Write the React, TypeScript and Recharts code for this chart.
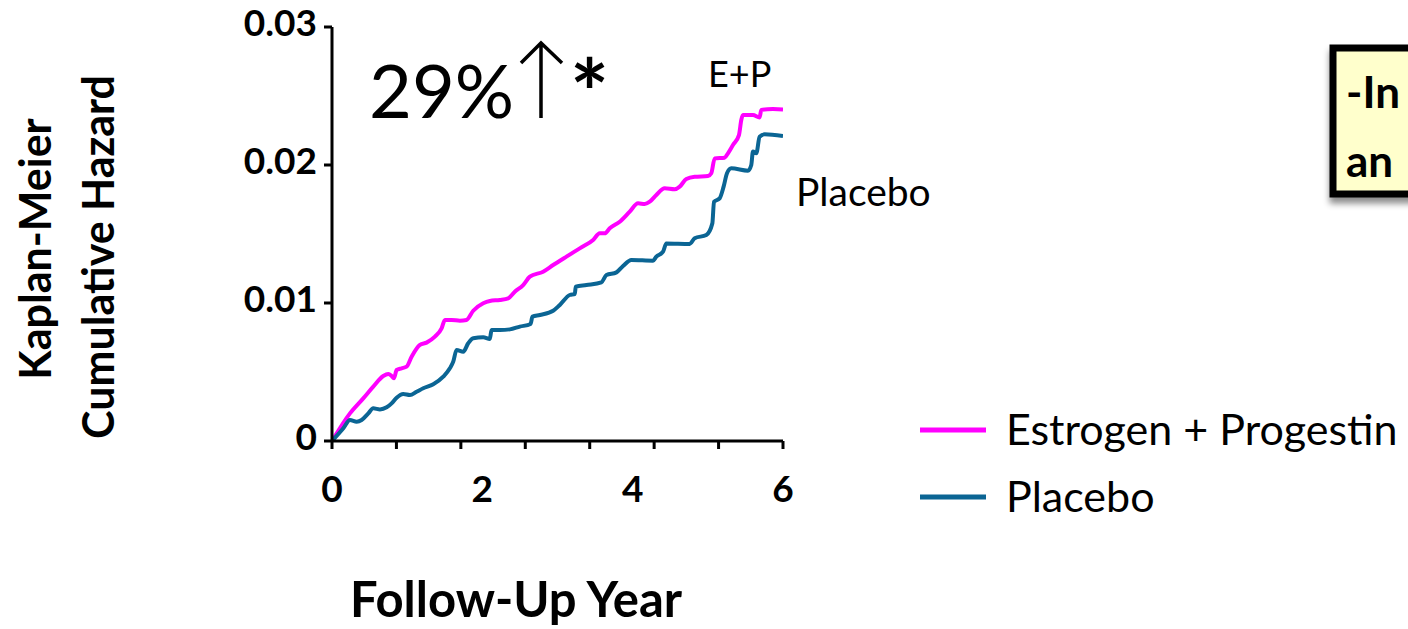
import React from 'react';
import { LineChart, Line, XAxis, YAxis, Legend } from 'recharts';

// Follow-up year (x) and cumulative hazard (y)
const epYears = [0, 0.239, 0.416, 0.549, 0.682, 0.749, 0.793, 0.824, 0.86, 0.926, 0.992, 1.059, 1.17, 1.258, 1.369, 1.458, 1.502, 1.591, 1.701, 1.79, 1.879, 2.012, 2.1, 2.233, 2.344, 2.432, 2.543, 2.632, 2.809, 2.942, 3.119, 3.296, 3.474, 3.562, 3.629, 3.695, 3.828, 3.961, 4.072, 4.16, 4.227, 4.315, 4.426, 4.559, 4.626, 4.714, 4.825, 5.002, 5.046, 5.091, 5.224, 5.268, 5.334, 5.414, 5.445, 5.467, 5.6, 5.689, 5.711, 5.866, 6.0];
const epValues = [0, 0.002, 0.00309, 0.00394, 0.00471, 0.00486, 0.00471, 0.00454, 0.00515, 0.00527, 0.00539, 0.00611, 0.00696, 0.00713, 0.00756, 0.00816, 0.00877, 0.00877, 0.00872, 0.00877, 0.00944, 0.00998, 0.01015, 0.01022, 0.01034, 0.01082, 0.0113, 0.01191, 0.01227, 0.01275, 0.01336, 0.01396, 0.01457, 0.01505, 0.01505, 0.01541, 0.01589, 0.01662, 0.01722, 0.01717, 0.01734, 0.01783, 0.01831, 0.01824, 0.01843, 0.01899, 0.01915, 0.0192, 0.0194, 0.02048, 0.02053, 0.02085, 0.02145, 0.02217, 0.02326, 0.02362, 0.02362, 0.02345, 0.02399, 0.02406, 0.02403];
const placeboYears = [0, 0.151, 0.239, 0.328, 0.394, 0.483, 0.549, 0.638, 0.727, 0.793, 0.86, 0.948, 1.037, 1.125, 1.214, 1.347, 1.48, 1.568, 1.613, 1.657, 1.746, 1.812, 1.879, 2.012, 2.1, 2.122, 2.233, 2.366, 2.499, 2.641, 2.667, 2.765, 2.942, 3.031, 3.163, 3.23, 3.243, 3.385, 3.584, 3.651, 3.784, 3.872, 3.983, 4.271, 4.315, 4.404, 4.448, 4.758, 4.825, 4.98, 5.06, 5.082, 5.157, 5.21, 5.255, 5.312, 5.534, 5.578, 5.6, 5.645, 5.689, 5.755, 6.0];
const placeboValues = [0, 0.00092, 0.00152, 0.0014, 0.00152, 0.002, 0.00237, 0.00229, 0.00244, 0.00273, 0.00314, 0.00341, 0.00333, 0.00357, 0.00382, 0.00411, 0.00466, 0.00527, 0.00575, 0.00659, 0.00647, 0.00708, 0.00744, 0.00751, 0.00739, 0.00804, 0.00804, 0.00809, 0.00829, 0.00848, 0.00901, 0.00913, 0.00944, 0.00986, 0.01058, 0.01065, 0.01118, 0.0113, 0.0115, 0.01203, 0.01222, 0.01268, 0.01312, 0.01307, 0.01336, 0.01372, 0.01432, 0.01428, 0.01469, 0.01493, 0.01577, 0.01734, 0.01758, 0.01843, 0.0194, 0.01976, 0.01959, 0.02, 0.02097, 0.02085, 0.02205, 0.02222, 0.0221];

const xTickLabels = [0, 2, 4, 6];
const xTickMarks = [0, 1, 2, 3, 4, 5, 6, 7];
const yTicks = [0, 0.01, 0.02, 0.03];
const seriesNames = ['Estrogen + Progestin', 'Placebo'];
const seriesColors = ['#FF00FF', '#0B6594'];

const epData = epYears.map((t, i) => ({ year: t, hazard: epValues[i] }));
const placeboData = placeboYears.map((t, i) => ({ year: t, hazard: placeboValues[i] }));

const FONT = 'Lato, "Open Sans", sans-serif';

const XLabelTick = (props: any) => {
  const { x, payload } = props;
  return (
    <text x={x} y={502} textAnchor="middle" fontFamily={FONT} fontWeight={700} fontSize={37} fill="#000">
      {payload.value}
    </text>
  );
};

const EmptyTick = () => <g />;

const LegendContent = (props: any) => {
  const payload = props.payload || [];
  return (
    <svg width={493} height={140} style={{ display: 'block', overflow: 'visible' }}>
      {payload.map((p: any, i: number) => {
        const cy = i === 0 ? 35 : 102;
        return (
          <g key={i}>
            <line x1={5} x2={71} y1={cy} y2={cy} stroke={p.color} strokeWidth={5} />
            <text x={91} y={cy} dy={15} fontFamily={FONT} fontSize={43} fill="#000">{p.value}</text>
          </g>
        );
      })}
    </svg>
  );
};

export default function App() {
  return (
    <div style={{ position: 'absolute', left: 0, top: 0, width: 1408, height: 629, background: '#fff', overflow: 'hidden' }}>
      <LineChart width={1408} height={629} margin={{ top: 27, right: 625, bottom: 186, left: 0 }}>
        <XAxis
          xAxisId="mk"
          dataKey="year"
          type="number"
          domain={[0, 7]}
          ticks={xTickMarks}
          height={1}
          tick={<EmptyTick />}
          tickSize={8}
          axisLine={{ stroke: '#000', strokeWidth: 3 }}
          tickLine={{ stroke: '#000', strokeWidth: 3 }}
          allowDataOverflow
        />
        <XAxis
          xAxisId="yr"
          dataKey="year"
          type="number"
          domain={[0, 6]}
          ticks={xTickLabels}
          height={1}
          axisLine={false}
          tickLine={false}
          tick={<XLabelTick />}
          allowDataOverflow
        />
        <YAxis
          width={332}
          type="number"
          domain={[0, 0.03]}
          ticks={yTicks}
          tickSize={8}
          tickMargin={7}
          axisLine={{ stroke: '#000', strokeWidth: 3 }}
          tickLine={{ stroke: '#000', strokeWidth: 3 }}
          tick={{ fontFamily: FONT, fontWeight: 700, fontSize: 37, fill: '#000', dy: -4 }}
          tickFormatter={(v: number) => (v === 0 ? '0' : String(v))}
          allowDataOverflow
        />
        <Legend
          layout="horizontal"
          verticalAlign="middle"
          align="center"
          content={<LegendContent />}
          wrapperStyle={{ left: 915, top: 395, width: 493, height: 140 }}
        />
        <Line
          xAxisId="yr"
          data={epData}
          dataKey="hazard"
          name={seriesNames[0]}
          type="monotone"
          stroke={seriesColors[0]}
          strokeWidth={4}
          dot={false}
          activeDot={false}
          isAnimationActive={false}
        />
        <Line
          xAxisId="yr"
          data={placeboData}
          dataKey="hazard"
          name={seriesNames[1]}
          type="monotone"
          stroke={seriesColors[1]}
          strokeWidth={4}
          dot={false}
          activeDot={false}
          isAnimationActive={false}
        />
      </LineChart>
      <svg width={1408} height={629} style={{ position: 'absolute', left: 0, top: 0, pointerEvents: 'none' }}>
        <defs>
          <filter id="shadow" x="-10%" y="-10%" width="130%" height="140%">
            <feDropShadow dx={0} dy={6} stdDeviation={3} floodColor="#000" floodOpacity={0.45} />
          </filter>
        </defs>
        <text transform="rotate(-90 34 249)" x={34} y={249} textAnchor="middle" dominantBaseline="central" fontFamily={FONT} fontWeight={700} fontSize={43}>Kaplan-Meier</text>
        <text transform="rotate(-90 97 257)" x={97} y={257} textAnchor="middle" dominantBaseline="central" fontFamily={FONT} fontWeight={700} fontSize={43}>Cumulative Hazard</text>
        <text x={516} y={617} textAnchor="middle" fontFamily={FONT} fontWeight={700} fontSize={49}>Follow-Up Year</text>
        <text x={369} y={118} fontFamily={FONT} fontSize={74}>29%</text>
        <path d="M541 44 L541 118 M521 63 L541 43 L562 63" stroke="#000" strokeWidth={3.5} fill="none" />
        <text x={570} y={127} fontFamily={FONT} fontWeight={700} fontSize={92}>*</text>
        <text x={708} y={87} fontFamily={FONT} fontSize={36}>E+P</text>
        <text x={796} y={206} fontFamily={FONT} fontSize={39}>Placebo</text>
        <rect x={1333} y={48} width={200} height={146} fill="#FFFFCC" stroke="#000" strokeWidth={7} filter="url(#shadow)" />
        <text x={1346} y={108} fontFamily={FONT} fontWeight={700} fontSize={44}>-In</text>
        <text x={1346} y={177} fontFamily={FONT} fontWeight={700} fontSize={44}>an</text>
      </svg>
    </div>
  );
}
